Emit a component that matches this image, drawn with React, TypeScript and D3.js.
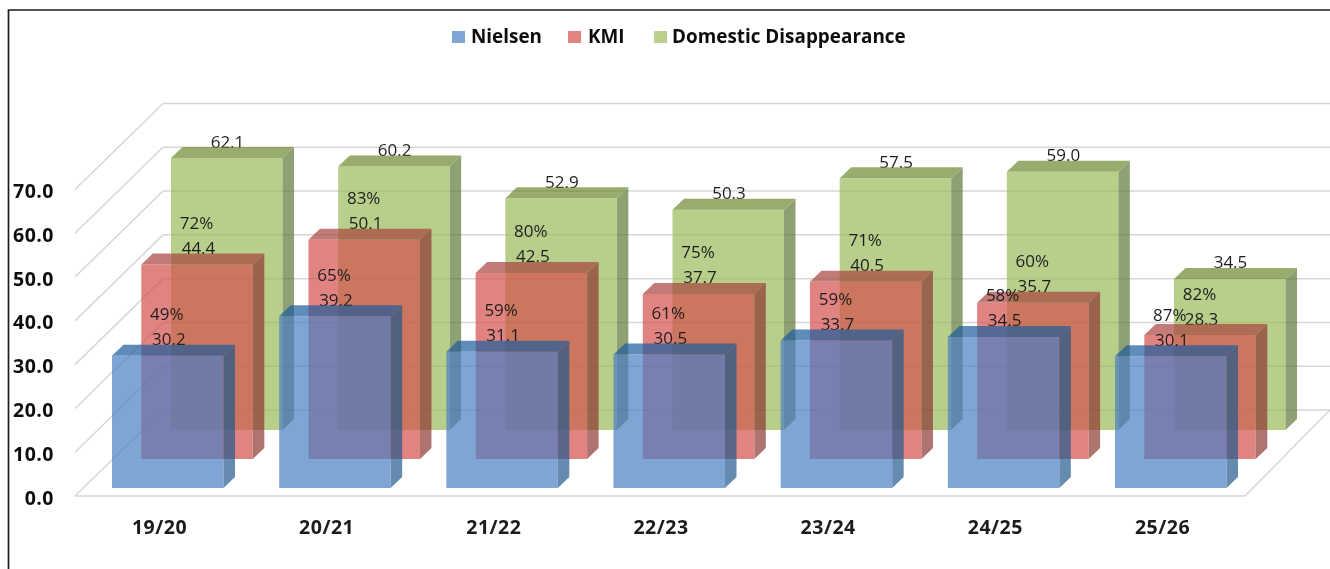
import React from "react";
import * as d3 from "d3";

const categories = ["19/20", "20/21", "21/22", "22/23", "23/24", "24/25", "25/26"];
const nielsen = [30.2, 39.2, 31.1, 30.5, 33.7, 34.5, 30.1];
const kmi = [44.4, 50.1, 42.5, 37.7, 40.5, 35.7, 28.3];
const domestic = [62.1, 60.2, 52.9, 50.3, 57.5, 59.0, 34.5];
const kmiPct = ["72%", "83%", "80%", "75%", "71%", "60%", "82%"];
const nielsenPct = ["49%", "65%", "59%", "61%", "59%", "58%", "87%"];
const yTicks = [0, 10, 20, 30, 40, 50, 60, 70];
const legendNames = ["Nielsen", "KMI", "Domestic Disappearance"];

const W = 1330, H = 569;
const FONT = "'Open Sans', 'Noto Sans', sans-serif";

// front plane of the floor; wall recedes by (wallDx, -wallDy)
const frontX = 75, frontY = 496, wallDx = 88, wallDy = 86, floorRight = 1245;
const unit = d3.scaleLinear().domain([0, 70]).range([0, 306.5]);
const bandX = d3.scaleLinear().domain([0, 6]).range([112, 1115]);
const barW = 111.5, depthX = 11.5, depthY = 11;
// each series sits one row deeper
const rowOffset = [
  { dx: 0, base: 488 },
  { dx: 29.3, base: 459 },
  { dx: 59, base: 430 },
];
const palette = [
  { front: "#4A7FC4", top: "#1E5C9C", side: "#225A90" },
  { front: "#D4504C", top: "#A8443F", side: "#8E3734" },
  { front: "#9BBB59", top: "#6B8931", side: "#5F7A3A" },
];

function Bar({ i, row, v }: { i: number; row: number; v: number }) {
  const x = bandX(i) + rowOffset[row].dx;
  const b = rowOffset[row].base;
  const t = b - unit(v);
  const c = palette[row];
  const r = x + barW;
  return (
    <g>
      <path d={`M${x},${t}L${r},${t}L${r},${b}L${x},${b}Z`} fill={c.front} />
      <path d={`M${x},${t}L${x + depthX},${t - depthY}L${r + depthX},${t - depthY}L${r},${t}Z`} fill={c.top} />
      <path d={`M${r},${t}L${r + depthX},${t - depthY}L${r + depthX},${b - depthY}L${r},${b}Z`} fill={c.side} />
    </g>
  );
}

function Series({ row, values }: { row: number; values: number[] }) {
  return (
    <g opacity={0.7}>
      {values.map((v, i) => <Bar key={i} i={i} row={row} v={v} />)}
    </g>
  );
}

function Label({ x, y, text }: { x: number; y: number; text: string }) {
  return (
    <text x={x} y={y} textAnchor="middle" dominantBaseline="central" fontFamily={FONT} fontSize={17} fill="#1f1f1f">
      {text}
    </text>
  );
}

// pair of labels (percentage over value) printed above a bar top, in the next row's x-position
function PairLabels({ under, nextRow, pct, vals }: { under: number[]; nextRow: number; pct: string[]; vals: number[] }) {
  return (
    <g>
      {under.map((u, i) => {
        const x = bandX(i) + rowOffset[nextRow].dx;
        const t = rowOffset[nextRow - 1].base - unit(u);
        return (
          <g key={i}>
            <Label x={x + 25.5} y={t - 42} text={pct[i]} />
            <Label x={x + 27.5} y={t - 17} text={vals[i].toFixed(1)} />
          </g>
        );
      })}
    </g>
  );
}

export default function App() {
  const legendItems = [
    { sw: 452, tx: 471 },
    { sw: 568, tx: 588 },
    { sw: 654, tx: 672 },
  ];
  return (
    <svg width={W} height={H} viewBox={`0 0 ${W} ${H}`} style={{ position: "absolute", left: 0, top: 0, display: "block", background: "#fff" }}>
      <defs>
        <filter id="soft" x="-2%" y="-2%" width="104%" height="104%">
          <feGaussianBlur stdDeviation="0.5" />
        </filter>
      </defs>
      <g filter="url(#soft)">
        <path d={`M8.5,${H}V10H${W}`} fill="none" stroke="#1a1a1a" strokeWidth={1.7} />

        {yTicks.map((t) => {
          const y = frontY - unit(t);
          return (
            <g key={t} stroke="#d6d6d6" strokeWidth={1.5} fill="none">
              <line x1={frontX} y1={y} x2={frontX + wallDx} y2={y - wallDy} />
              <line x1={frontX + wallDx} y1={y - wallDy} x2={W} y2={y - wallDy} />
            </g>
          );
        })}
        <line x1={frontX} y1={frontY} x2={floorRight} y2={frontY} stroke="#d6d6d6" strokeWidth={1.5} />
        <line x1={floorRight} y1={frontY} x2={W} y2={frontY - wallDy} stroke="#d6d6d6" strokeWidth={1.5} />

        {yTicks.map((t) => (
          <text key={t} x={54} y={frontY + 1 - unit(t)} textAnchor="end" dominantBaseline="central" fontFamily={FONT} fontWeight={700} fontSize={19.5} letterSpacing={0.5} fill="#111">
            {t.toFixed(1)}
          </text>
        ))}

        {domestic.map((v, i) => (
          <Label key={i} x={bandX(i) + rowOffset[2].dx + 56.5} y={rowOffset[2].base - unit(v) - 17} text={v.toFixed(1)} />
        ))}
        <Series row={2} values={domestic} />
        <PairLabels under={kmi} nextRow={2} pct={kmiPct} vals={kmi} />
        <Series row={1} values={kmi} />
        <PairLabels under={nielsen} nextRow={1} pct={nielsenPct} vals={nielsen} />
        <Series row={0} values={nielsen} />

        {categories.map((c, i) => (
          <text key={c} x={bandX(i) + 47.5} y={526} textAnchor="middle" dominantBaseline="central" fontFamily={FONT} fontWeight={700} fontSize={19.5} letterSpacing={0.5} fill="#1a1a1a">
            {c}
          </text>
        ))}

        {legendNames.map((n, i) => (
          <g key={n}>
            <rect x={legendItems[i].sw} y={31} width={13} height={12} fill={palette[i].front} opacity={0.7} />
            <text x={legendItems[i].tx} y={35.5} dominantBaseline="central" fontFamily={FONT} fontWeight={700} fontSize={18.9} fill="#111">
              {n}
            </text>
          </g>
        ))}
      </g>
    </svg>
  );
}
